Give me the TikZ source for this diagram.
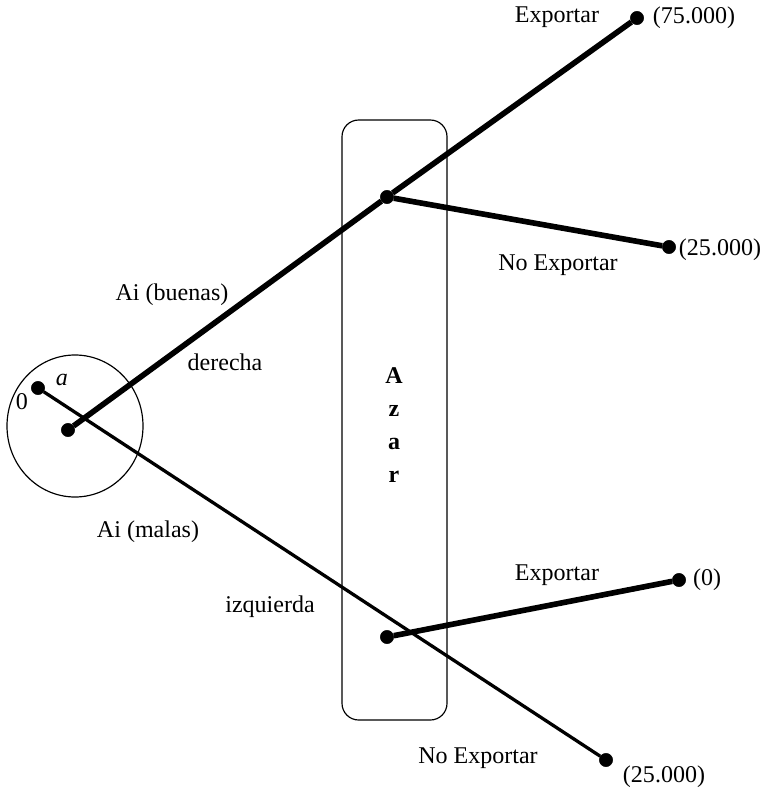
\documentclass[tikz,border=0pt]{standalone}
\usepackage{fontspec}
\setmainfont{Liberation Serif}
\usetikzlibrary{graphs}

\begin{document}
\begin{tikzpicture} [x=0.03cm, y=-0.03cm,
        every node/.style={font=\fontsize{20.5}{24}\selectfont},
        dot/.style={draw,circle,fill,inner sep=0pt,minimum size=0.4cm}]
            \useasboundingbox (0,0) rectangle (764,788);

            % chance box and start circle
            \draw[line width=1pt] (75,426) ellipse [x radius=2.04cm, y radius=2.13cm];
            \draw[line width=1pt, rounded corners=0.5cm] (342,120) rectangle (447,720);
            \node[align=center, font=\fontsize{20.5}{28}\selectfont\bfseries] (azar) at (394,425) {A\\z\\a\\r};

            \node[dot] (a)    at (38, 388)  {};
            \node[dot] (root) at (68, 430)  {};
            \node[dot] (up)   at (387, 197) {};
            \node[dot] (down) at (387, 637) {};
            \node[dot] (ue)   at (637, 18)  {};
            \node[dot] (un)   at (669, 247) {};
            \node[dot] (de)   at (679, 580) {};
            \node[dot] (dn)   at (606, 760) {};

            \graph[edges={line width=4.8pt}] {
                (root) -- (up) -- (ue);
                (up) -- (un);
                (down) -- (de);
            };
            \graph[edges={line width=2.8pt}] {
                (a) -- (dn);
            };

            \node at (22, 402)  {0};
            \node at (62, 380)  {\textit{a}};
            \node at (172, 295) {Ai (buenas)};
            \node at (225, 362) {derecha};
            \node at (148, 532) {Ai (malas)};
            \node at (270, 607) {izquierda};
            \node at (557, 17)  {Exportar};
            \node at (694, 18)  {(75.000)};
            \node at (558, 265) {No Exportar};
            \node at (720, 250) {(25.000)};
            \node at (557, 575) {Exportar};
            \node at (707, 580) {(0)};
            \node at (478, 758) {No Exportar};
            \node at (664, 777) {(25.000)};
        \end{tikzpicture}
\end{document}
